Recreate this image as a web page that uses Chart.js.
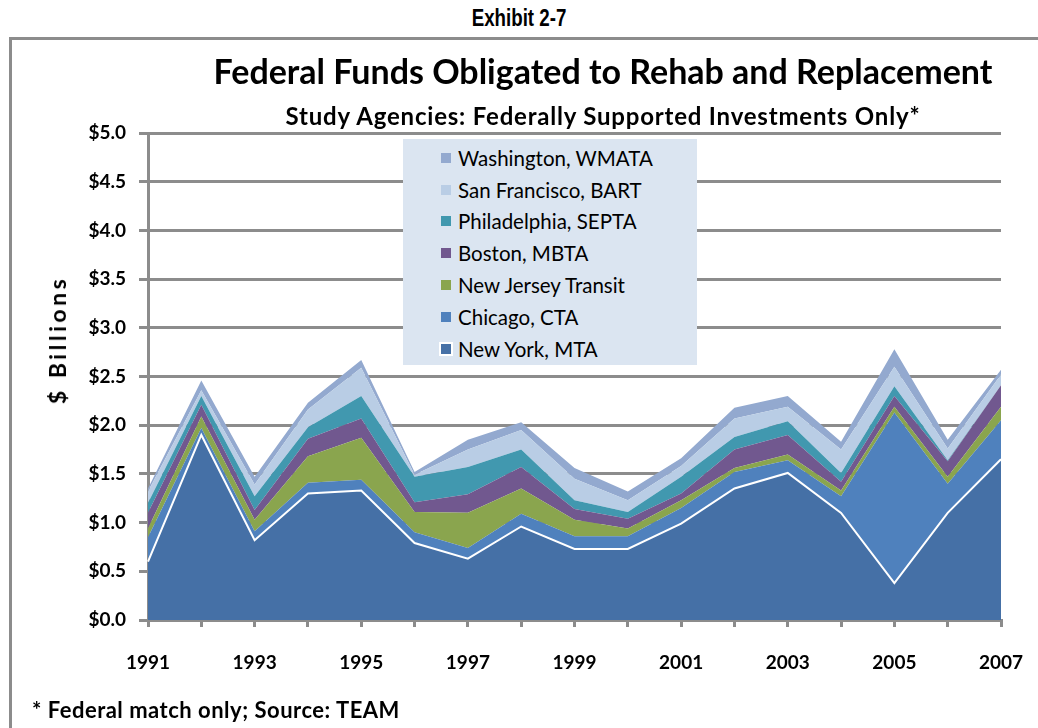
<!DOCTYPE html>
<html>
<head>
<meta charset="utf-8">
<script src="https://cdn.jsdelivr.net/npm/chart.js@4"></script>
<style>
  body { margin: 0; width: 1038px; height: 728px; overflow: hidden; background: #fff; position: relative; font-family: Lato, "Open Sans", sans-serif; }
  #exhibit { position: absolute; left: 0; width: 1038px; top: 4px; text-align: center; font: bold 24px "Liberation Sans", sans-serif; transform: scaleX(0.78); }
  #frame { position: absolute; left: 9px; top: 37px; width: 1100px; height: 800px; border: 3px solid #8c8c8c; box-sizing: border-box; }
  #title { position: absolute; left: 103px; width: 1000px; top: 51px; text-align: center; font: bold 34px Lato; line-height: 40px; }
  #subtitle { position: absolute; left: 103px; width: 1000px; top: 101px; text-align: center; font: bold 24px Lato; letter-spacing: 0.8px; line-height: 30px; }
  #ytitle { position: absolute; left: 57px; top: 340px; transform: translate(-50%, -50%) rotate(-90deg); font: bold 23px Lato; white-space: nowrap; letter-spacing: 3.5px; }
  #note { position: absolute; left: 32px; top: 696px; font: bold 22px Lato; letter-spacing: 0.5px; }
  #legend { position: absolute; left: 403px; top: 139px; width: 294px; height: 226px; background: #dbe5f1; box-sizing: border-box; padding-top: 3px; }
  .item { height: 31.8px; display: flex; align-items: center; font: 20.5px Lato; padding-left: 38px; white-space: nowrap; }
  .sw { width: 10px; height: 10px; margin-right: 7px; box-sizing: border-box; flex: none; }
  #wrap { position: absolute; left: 0; top: 0; width: 1038px; height: 728px; }
</style>
</head>
<body>
<div id="exhibit">Exhibit 2-7</div>
<div id="frame"></div>
<div id="wrap"><canvas id="chart"></canvas></div>
<div id="title">Federal Funds Obligated to Rehab and Replacement</div>
<div id="subtitle">Study Agencies: Federally Supported Investments Only*</div>
<div id="ytitle">$ Billions</div>
<div id="legend"></div>
<div id="note">* Federal match only; Source: TEAM</div>
<script>
const years = ["1991", "1992", "1993", "1994", "1995", "1996", "1997", "1998", "1999",
  "2000", "2001", "2002", "2003", "2004", "2005", "2006", "2007"];

// $ billions per agency, stacked bottom to top
const newYork      = [0.60, 1.90, 0.82, 1.30, 1.33, 0.79, 0.63, 0.96, 0.73, 0.73, 0.99, 1.35, 1.51, 1.10, 0.38, 1.10, 1.65];
const chicago      = [0.25, 0.07, 0.09, 0.11, 0.11, 0.11, 0.11, 0.13, 0.13, 0.13, 0.16, 0.17, 0.13, 0.17, 1.75, 0.30, 0.40];
const newJersey    = [0.09, 0.12, 0.12, 0.27, 0.43, 0.21, 0.36, 0.26, 0.17, 0.08, 0.08, 0.04, 0.06, 0.06, 0.06, 0.07, 0.14];
const boston       = [0.16, 0.12, 0.10, 0.18, 0.20, 0.10, 0.19, 0.22, 0.11, 0.10, 0.07, 0.19, 0.20, 0.09, 0.11, 0.16, 0.22];
const philadelphia = [0.10, 0.09, 0.14, 0.12, 0.23, 0.26, 0.28, 0.18, 0.09, 0.07, 0.17, 0.13, 0.14, 0.09, 0.10, 0.01, 0.00];
const sanFrancisco = [0.12, 0.06, 0.12, 0.18, 0.29, 0.02, 0.18, 0.20, 0.22, 0.12, 0.11, 0.19, 0.15, 0.24, 0.20, 0.12, 0.11];
const washington   = [0.03, 0.10, 0.08, 0.07, 0.08, 0.03, 0.10, 0.08, 0.11, 0.09, 0.08, 0.11, 0.11, 0.08, 0.18, 0.09, 0.05];

const series = [
  { label: "New York, MTA", data: newYork, color: "#4570a6" },
  { label: "Chicago, CTA", data: chicago, color: "#4f81bd" },
  { label: "New Jersey Transit", data: newJersey, color: "#8aa54e" },
  { label: "Boston, MBTA", data: boston, color: "#71588f" },
  { label: "Philadelphia, SEPTA", data: philadelphia, color: "#4198af" },
  { label: "San Francisco, BART", data: sanFrancisco, color: "#b9cde5" },
  { label: "Washington, WMATA", data: washington, color: "#93a9cf" }
];

Chart.defaults.font.family = "Lato";
const gridGray = "#8c8c8c";

new Chart(document.getElementById("chart"), {
  type: "line",
  data: {
    labels: years,
    datasets: series.map((s, i) => ({
      label: s.label,
      data: s.data,
      backgroundColor: s.color,
      borderColor: i === 0 ? "#ffffff" : s.color,
      borderWidth: i === 0 ? 2 : 0,
      fill: i === 0 ? "origin" : "-1",
      pointRadius: 0,
      tension: 0
    }))
  },
  options: {
    responsive: true,
    maintainAspectRatio: false,
    animation: false,
    layout: { padding: { left: 68, right: 37, top: 133, bottom: 48 } },
    plugins: { legend: { display: false }, tooltip: { enabled: false } },
    scales: {
      x: {
        offset: false,
        afterFit: s => { s.height = 60; s.paddingLeft = 0; s.paddingRight = 0; },
        grid: { drawOnChartArea: false, color: gridGray, lineWidth: 3, tickLength: 7 },
        border: { color: gridGray, width: 3 },
        ticks: {
          autoSkip: false, maxRotation: 0, padding: 24, color: "#000",
          font: { size: 19, weight: "bold" },
          callback: (v, i) => (i % 2 === 0 ? years[i] : "")
        }
      },
      y: {
        stacked: true,
        min: 0, max: 5,
        afterFit: s => { s.width = 80; },
        grid: { color: gridGray, lineWidth: 3, tickLength: 9 },
        border: { color: gridGray, width: 3 },
        ticks: {
          stepSize: 0.5, padding: 13, color: "#000",
          font: { size: 19, weight: "bold" },
          callback: v => "$" + v.toFixed(1)
        }
      }
    }
  }
});

const legend = document.getElementById("legend");
series.slice().reverse().forEach(s => {
  const row = document.createElement("div");
  row.className = "item";
  const sw = document.createElement("span");
  sw.className = "sw";
  sw.style.background = s.color;
  if (s.label === "New York, MTA") sw.style.outline = "2px solid #fff";
  row.appendChild(sw);
  row.appendChild(document.createTextNode(s.label));
  legend.appendChild(row);
});
</script>
</body>
</html>
